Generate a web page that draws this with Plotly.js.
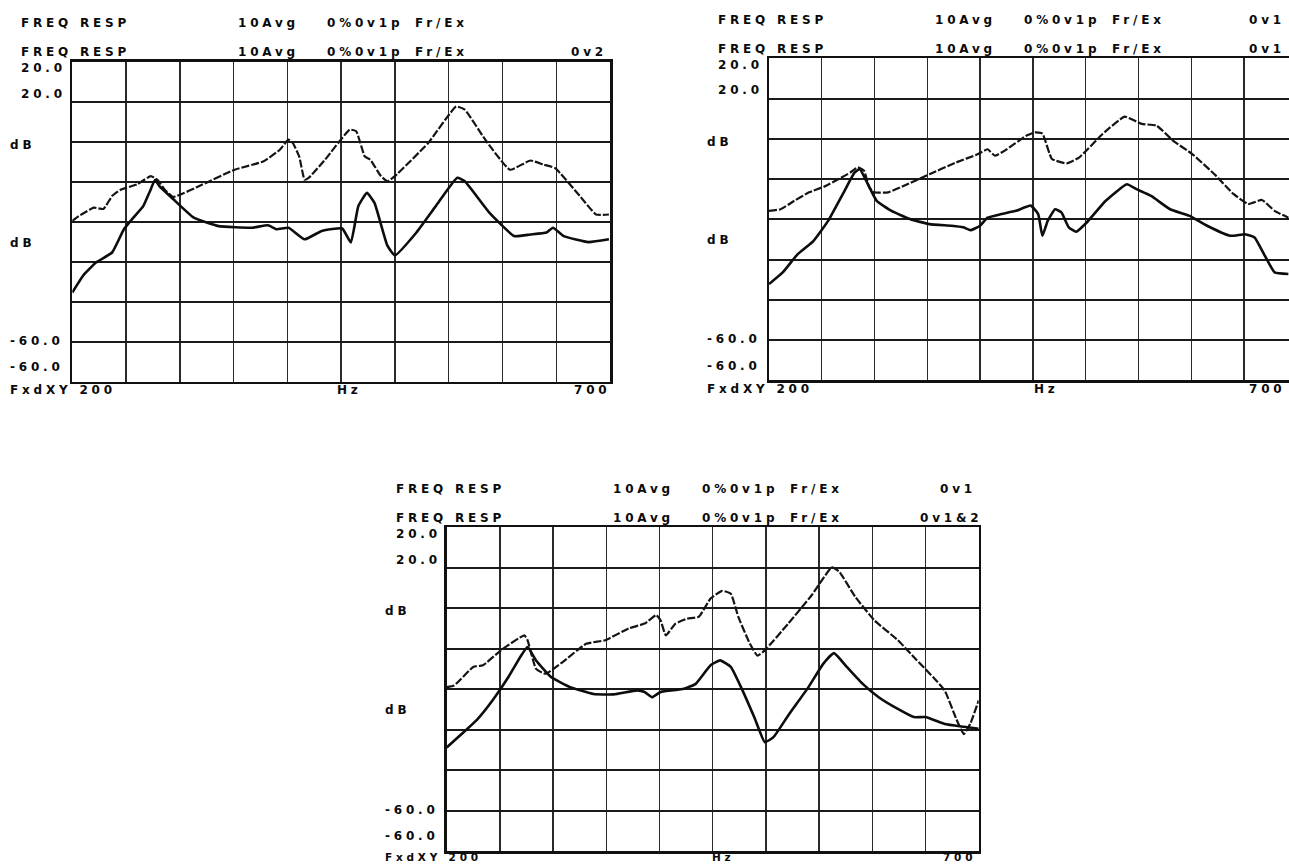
<!DOCTYPE html>
<html>
<head>
<meta charset="utf-8">
<script src="https://cdn.plot.ly/plotly-3.0.1.min.js"></script>
<style>
  html, body { margin: 0; padding: 0; background: #fff; }
  #chart { width: 1289px; height: 864px; }
  .annotation-text { letter-spacing: 3.8px; }
</style>
</head>
<body>
<div id="chart"></div>
<script>
// ---------------- DATA ----------------
// Panel 1 (top left)
const P1_DASH_HZ = [200,206,220,229,237,245,260,273,279,286,294,321,351,378,393,401,405,411,416,420,435,458,464,472,477,487,493,500,531,557,565,584,607,626,638,649,672,687,699];
const P1_DASH_DB = [-19.8,-18.6,-16.5,-16.8,-13.6,-12,-10.7,-8.6,-9.5,-12,-13.8,-10.7,-7,-4.9,-2,0.5,-0.3,-3.7,-9.5,-9,-4.5,3,2.6,-3.7,-4.5,-8.6,-9.9,-8.6,-0.3,8.8,8,0.5,-7,-4.7,-5.7,-6.6,-13.6,-18.2,-18.2];
const P1_SOLID_HZ = [200,210,222,237,248,258,266,272,277,281,294,313,336,367,382,390,401,416,432,451,459,466,474,481,493,500,520,538,558,565,588,611,626,641,647,657,680,699];
const P1_SOLID_DB = [-37.7,-33.5,-30.2,-27.7,-21.9,-18.6,-16.1,-12.5,-9.5,-11.1,-14.4,-19,-21.1,-21.5,-20.9,-21.9,-21.5,-24.4,-22.3,-21.7,-25.2,-16.1,-12.8,-15.3,-26,-28.4,-22.7,-16.1,-9,-9.9,-17.8,-23.6,-23.2,-22.7,-21.5,-23.6,-25.1,-24.4];

// Panel 2 (top right)
const P2_DASH_HZ = [200,211,224,238,252,266,277,284,290,295,300,313,331,352,377,398,407,414,423,444,452,459,468,482,494,516,537,553,567,583,601,622,640,654,667,679,692];
const P2_DASH_DB = [-17.9,-17.5,-15.4,-13.3,-11.9,-10,-8.4,-7.1,-7.9,-12.1,-13.3,-13.3,-11.3,-8.8,-5.9,-3.8,-2.6,-4.2,-3,0.8,1.6,1.3,-5,-6.1,-4.6,1.2,5.5,3.7,3.3,-0.5,-3.8,-8.8,-13.7,-16.2,-15.2,-17.9,-19.6];
const P2_SOLID_HZ = [200,213,227,242,256,270,281,286,292,302,316,334,352,373,384,391,400,407,420,434,448,455,459,464,471,477,484,491,501,519,539,548,562,580,598,615,637,651,660,669,679,692];
const P2_SOLID_DB = [-36.1,-33.2,-28.7,-25.4,-20.4,-13.7,-8.4,-7.5,-10.4,-15.4,-17.9,-20,-21.2,-21.6,-22,-22.7,-21.6,-19.6,-18.7,-17.9,-16.6,-18.7,-24.1,-20.4,-17.5,-18.3,-22,-23.1,-20.8,-15.4,-11.3,-12.5,-14.2,-17.5,-19.1,-21.6,-24.1,-23.7,-24.5,-28.7,-33.2,-33.6];

// Panel 3 (bottom)
const P3_DASH_HZ = [200,207,225,234,251,273,276,284,293,309,331,349,371,386,397,401,406,415,426,437,448,459,467,474,485,492,499,521,543,562,569,584,602,624,642,657,668,679,686,692,700];
const P3_DASH_DB = [-19.5,-19.1,-14.5,-14.1,-10.4,-6.7,-7.9,-15,-16.2,-13.3,-8.8,-7.9,-5,-3.8,-1.7,-3,-6.7,-3.8,-2.6,-2.1,2.4,4.3,3.6,-2.1,-8.8,-11.7,-10.4,-3.8,3.2,10.1,9,2.8,-3,-7.9,-12.9,-17,-20.3,-27.4,-31.1,-28.6,-22.8];
const P3_SOLID_HZ = [200,214,229,243,258,269,276,284,298,316,338,357,379,386,393,401,423,434,448,457,467,478,489,499,507,521,540,554,564,576,591,606,624,639,650,668,686,700];
const P3_SOLID_DB = [-34.4,-31.1,-27.4,-22.8,-17,-12.1,-9.6,-12.9,-17,-19.5,-21.2,-21.3,-20.3,-20.7,-22,-20.7,-19.9,-18.7,-14.1,-12.9,-14.5,-20.3,-26.9,-33.1,-31.9,-26.5,-19.5,-13.7,-11.1,-14.5,-18.7,-22,-24.9,-26.9,-26.9,-28.6,-29.3,-29.8];

// Axis scale values
const X_RANGE_HZ = [200, 700];
const X_STEP_HZ = 50;
const Y_RANGE_DB = [-60, 20];
const Y_STEP_DB = 10;

// Texts
const HEADER_TEXT = ["FREQ RESP", "10Avg", "0%0v1p", "Fr/Ex"];
const Y_LABELS = ["20.0", "20.0", "dB", "dB", "-60.0", "-60.0"];
const X_LABELS = ["FxdXY 200", "Hz", "700"];
const P1_TAGS = ["", "0v2"];
const P2_TAGS = ["0v1", "0v1"];
const P3_TAGS = ["0v1", "0v1&2"];

// ---------------- LAYOUT GEOMETRY (pixels) ----------------
const W = 1289, H = 864;
const panels = [
  {left: 72.3, right: 610, top: 61.7, bottom: 381.7, dash: [P1_DASH_HZ, P1_DASH_DB], solid: [P1_SOLID_HZ, P1_SOLID_DB], tags: P1_TAGS},
  {left: 769, right: 1296.8, top: 58.3, bottom: 380.3, dash: [P2_DASH_HZ, P2_DASH_DB], solid: [P2_SOLID_HZ, P2_SOLID_DB], tags: P2_TAGS},
  {left: 446.7, right: 978.7, top: 527.3, bottom: 851, dash: [P3_DASH_HZ, P3_DASH_DB], solid: [P3_SOLID_HZ, P3_SOLID_DB], tags: P3_TAGS}
];
// offsets relative to frame
const HEADER_DX = [-52, 165, 254, 342];
const ROW_DY = [-38.5, -9.5];
const YLAB_DX = [-52, -52, -63, -63, -63, -63];
const YLAB_DIV = [0.16, 0.8, 2.08, 4.52, 6.98, 7.64];
const XLAB_POS = [{ref: 'left', dx: -63}, {ref: 'left', dx: 264}, {ref: 'right', dx: -37}];
const TAG_DX = {3: -40, 5: -60};
const EDGE_PAD = 3;
const HALF_TEXT_H = 8.5;

const px = x => x / W;
const py = y => 1 - y / H;

const FONT = {family: 'DejaVu Sans, sans-serif', size: 12, color: '#0a0a0a', weight: 'bold'};
const FONT_EDGE = {family: 'DejaVu Sans, sans-serif', size: 10.5, color: '#0a0a0a', weight: 'bold'};

const traces = [];
const layout = {
  width: W, height: H,
  margin: {l: 0, r: 0, t: 0, b: 0},
  paper_bgcolor: '#ffffff', plot_bgcolor: '#ffffff',
  showlegend: false,
  annotations: []
};

// texts that would run past the page edges are pulled back inside
function ann(text, xpx, ypx, estWidth) {
  if (!text) return;
  let x = xpx, anchor = 'left';
  if (estWidth && xpx + estWidth > W - EDGE_PAD) { x = W - EDGE_PAD; anchor = 'right'; }
  let y = ypx, yanchor = 'middle', font = FONT;
  if (ypx + HALF_TEXT_H > H) { y = H - 0.2; yanchor = 'bottom'; font = FONT_EDGE; }
  layout.annotations.push({
    text: text, xref: 'paper', yref: 'paper',
    x: px(x), y: py(y), xanchor: anchor, yanchor: yanchor,
    showarrow: false, font: font, borderpad: 0
  });
}
const estW = t => t.length * 11.9;

panels.forEach((p, i) => {
  const n = i === 0 ? '' : String(i + 1);
  const xa = 'xaxis' + n, ya = 'yaxis' + n;
  const visRight = Math.min(p.right, W);
  const xMax = X_RANGE_HZ[0] + (visRight - p.left) / (p.right - p.left) * (X_RANGE_HZ[1] - X_RANGE_HZ[0]);
  const clipped = visRight < p.right;
  layout[xa] = {
    domain: [px(p.left), px(visRight)],
    range: [X_RANGE_HZ[0], xMax],
    anchor: 'y' + n,
    dtick: X_STEP_HZ, tick0: X_RANGE_HZ[0],
    showticklabels: false, ticks: '',
    showgrid: true, gridcolor: '#2a2a2a', gridwidth: 1.4, griddash: 'solid',
    zeroline: false,
    showline: true, mirror: true, linecolor: '#111', linewidth: 2.5,
    fixedrange: true
  };
  layout[ya] = {
    domain: [py(p.bottom), py(p.top)],
    range: Y_RANGE_DB.slice(),
    anchor: 'x' + n,
    dtick: Y_STEP_DB, tick0: Y_RANGE_DB[0],
    showticklabels: false, ticks: '',
    showgrid: true, gridcolor: '#1a1a1a', gridwidth: 2,
    zeroline: false,
    showline: true, mirror: clipped ? false : true, linecolor: '#111', linewidth: 2.5,
    fixedrange: true
  };
  traces.push({
    x: p.dash[0], y: p.dash[1], xaxis: 'x' + n, yaxis: 'y' + n,
    type: 'scatter', mode: 'lines',
    line: {color: '#141414', width: 2.2, dash: '8px,2px', shape: 'spline', smoothing: 0.4},
    hoverinfo: 'skip'
  });
  traces.push({
    x: p.solid[0], y: p.solid[1], xaxis: 'x' + n, yaxis: 'y' + n,
    type: 'scatter', mode: 'lines',
    line: {color: '#0d0d0d', width: 2.6, shape: 'spline', smoothing: 0.4},
    hoverinfo: 'skip'
  });

  const divH = (p.bottom - p.top) / 8;
  ROW_DY.forEach((dy, r) => {
    HEADER_TEXT.forEach((t, k) => ann(t, p.left + HEADER_DX[k], p.top + dy));
    const tag = p.tags[r];
    if (tag) ann(tag, p.right + (TAG_DX[tag.length] || -40), p.top + dy, estW(tag));
  });
  Y_LABELS.forEach((t, k) => ann(t, p.left + YLAB_DX[k], p.top + YLAB_DIV[k] * divH));
  X_LABELS.forEach((t, k) => {
    const pos = XLAB_POS[k];
    const base = pos.ref === 'left' ? p.left : p.right;
    ann(t, base + pos.dx, p.bottom + 8.5, estW(t));
  });
});

Plotly.newPlot('chart', traces, layout, {displayModeBar: false, staticPlot: true});
</script>
</body>
</html>
